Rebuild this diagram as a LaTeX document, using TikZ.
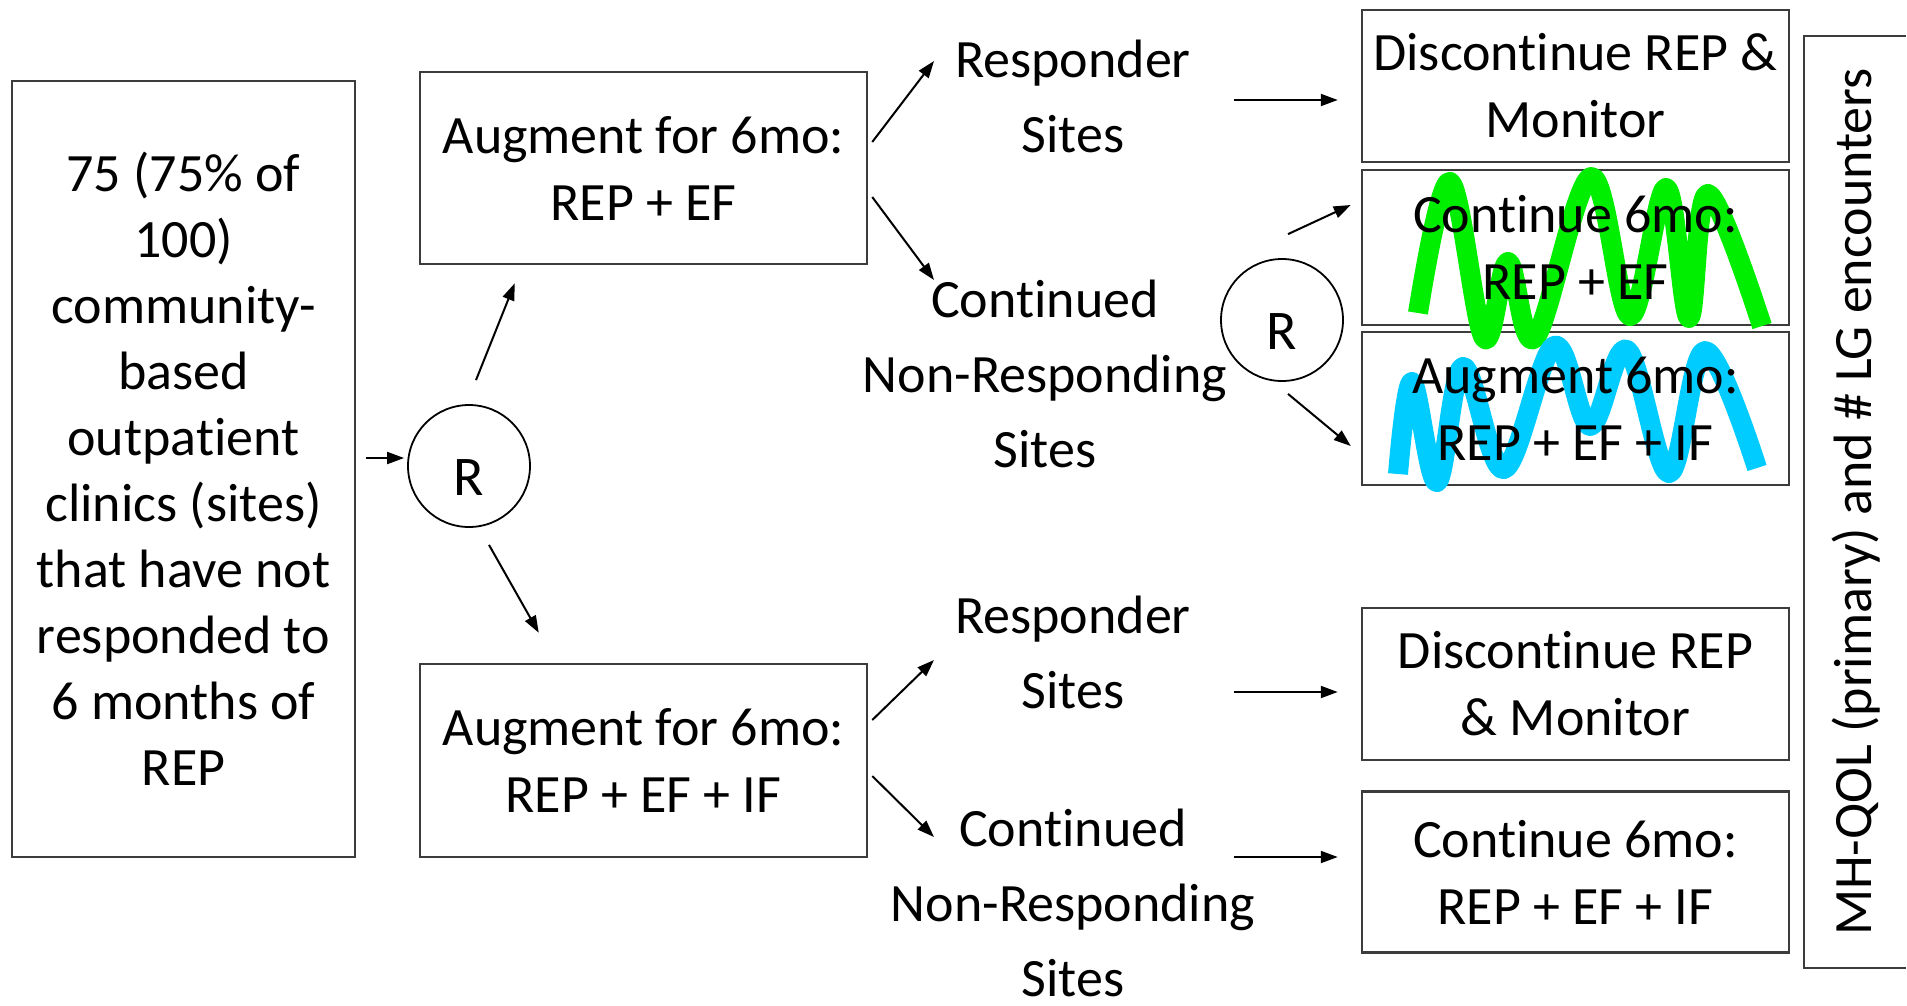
\documentclass[tikz,border=0pt]{standalone}
\usepackage{fontspec}
\setmainfont{Carlito}[RawFeature={-liga,-clig,-calt,-dlig}]
\usetikzlibrary{arrows.meta,calc}
\definecolor{wgreen}{RGB}{0,238,0}
\definecolor{wblue}{RGB}{0,204,255}
\definecolor{boxgray}{RGB}{60,60,60}
\begin{document}
\begin{tikzpicture}[x=1pt,y=-1pt,
  boxstyle/.style={draw=boxgray, line width=2.5pt, inner sep=0pt, align=center, font=\fontsize{54}{67}\selectfont},
  plain/.style={inner sep=0pt, align=center, font=\fontsize{54}{67}\selectfont},
  lbl/.style={inner sep=0pt, align=center, font=\fontsize{54}{75}\selectfont},
  arr/.style={-{Triangle[length=17pt,width=12pt]}, line width=2pt},
  rnode/.style={circle, draw, line width=1.8pt, minimum size=122pt, inner sep=0pt, text height=59pt, text depth=0pt, font=\fontsize{56}{67}\selectfont},
  wave/.style={line width=20pt, line join=round}
]
\useasboundingbox (0,0) rectangle (1907,1005);

% left box
\node[boxstyle, minimum width=343pt, minimum height=776pt, font=\fontsize{54}{66}\selectfont] (src) at (183.5,469)
  {75 (75\% of\\100)\\community-\\based\\outpatient\\clinics (sites)\\that have not\\responded to\\6 months of\\REP};

\node[rnode] (R1) at (469,466) {R};
\node[boxstyle, minimum width=447pt, minimum height=192pt] (aug1) at (643.5,168) {Augment for 6mo:\\REP + EF};
\node[boxstyle, minimum width=447pt, minimum height=193pt] (aug2) at (643.5,760.5) {Augment for 6mo:\\REP + EF + IF};

\node[lbl] (resp1) at (1073,96) {Responder\\Sites};
\node[lbl] (nonr1) at (1045,374) {Continued\\Non-Responding\\Sites};
\node[lbl] (resp2) at (1073,652) {Responder\\Sites};
\node[lbl] (nonr2) at (1073,903) {Continued\\Non-Responding\\Sites};

\node[rnode] (R2) at (1282,320) {R};

\node[boxstyle, minimum width=427pt, minimum height=152pt] (disc1) at (1575.5,86) {Discontinue REP \&\\Monitor};
\node[boxstyle, minimum width=427pt, minimum height=155pt] (cbox) at (1575.5,247.5) {};
\node[boxstyle, minimum width=427pt, minimum height=153pt] (abox) at (1575.5,408.5) {};
\node[boxstyle, minimum width=427pt, minimum height=152pt] (disc2) at (1575.5,684) {Discontinue REP\\\& Monitor};
\node[boxstyle, minimum width=427pt, minimum height=161pt] (cont2) at (1575.5,872) {Continue 6mo:\\REP + EF + IF};

% scribbles
\draw[wave, wgreen] plot[smooth, tension=0.6] coordinates {(1418,313) (1450,182) (1484,338) (1508,262) (1535,338) (1591,177) (1630,316) (1666,188) (1689,318) (1708,194) (1762,326)};
\draw[wave, wblue] plot[smooth, tension=0.6] coordinates {(1398,474) (1412,382) (1437,482) (1463,367) (1504,469) (1554,346) (1590,426) (1627,350) (1669,473) (1705,351) (1757,468)};

\node[plain] (ctext) at (cbox) {Continue 6mo:\\REP + EF};
\node[plain] (atext) at (abox) {Augment 6mo:\\REP + EF + IF};

% outcome box
\node[minimum width=102pt, minimum height=932pt, inner sep=0pt] (obox) at (1855,502) {};
\draw[draw=boxgray, line width=2.5pt] (obox.north east) -- (obox.north west) -- (obox.south west) -- (obox.south east);
\node[plain, rotate=90] (otext) at (1856,502) {MH-QOL (primary) and \# LG encounters};

% connectors
\draw[arr] ([shift={(10,-11)}]src.east) -- ([shift={(-3,-8)}]R1.west);
\draw[arr] ([shift={(7,-24)}]R1.north) -- ([shift={(96,18)}]aug1.south west);
\draw[arr] ([shift={(20,17)}]R1.south) -- ([shift={(120,-30)}]aug2.north west);
\draw[arr] ([shift={(4,-26)}]aug1.east) -- ([shift={(-139,-35)}]resp1.center);
\draw[arr] ([shift={(4,29)}]aug1.east) -- ([shift={(-111,-94)}]nonr1.center);
\draw[arr] ([shift={(161,4)}]resp1.center) -- ([shift={(-23,14)}]disc1.west);
\draw[arr] ([shift={(6,-24)}]R2.north) -- ([shift={(-10,-42.5)}]cbox.west);
\draw[arr] ([shift={(6,12)}]R2.south) -- ([shift={(-10,37.5)}]abox.west);
\draw[arr] ([shift={(4,-40.5)}]aug2.east) -- ([shift={(-139,8)}]resp2.center);
\draw[arr] ([shift={(4,15.5)}]aug2.east) -- ([shift={(-139,-66)}]nonr2.center);
\draw[arr] ([shift={(161,40)}]resp2.center) -- ([shift={(-23,8)}]disc2.west);
\draw[arr] ([shift={(161,-46)}]nonr2.center) -- ([shift={(-23,-15)}]cont2.west);
\end{tikzpicture}
\end{document}
